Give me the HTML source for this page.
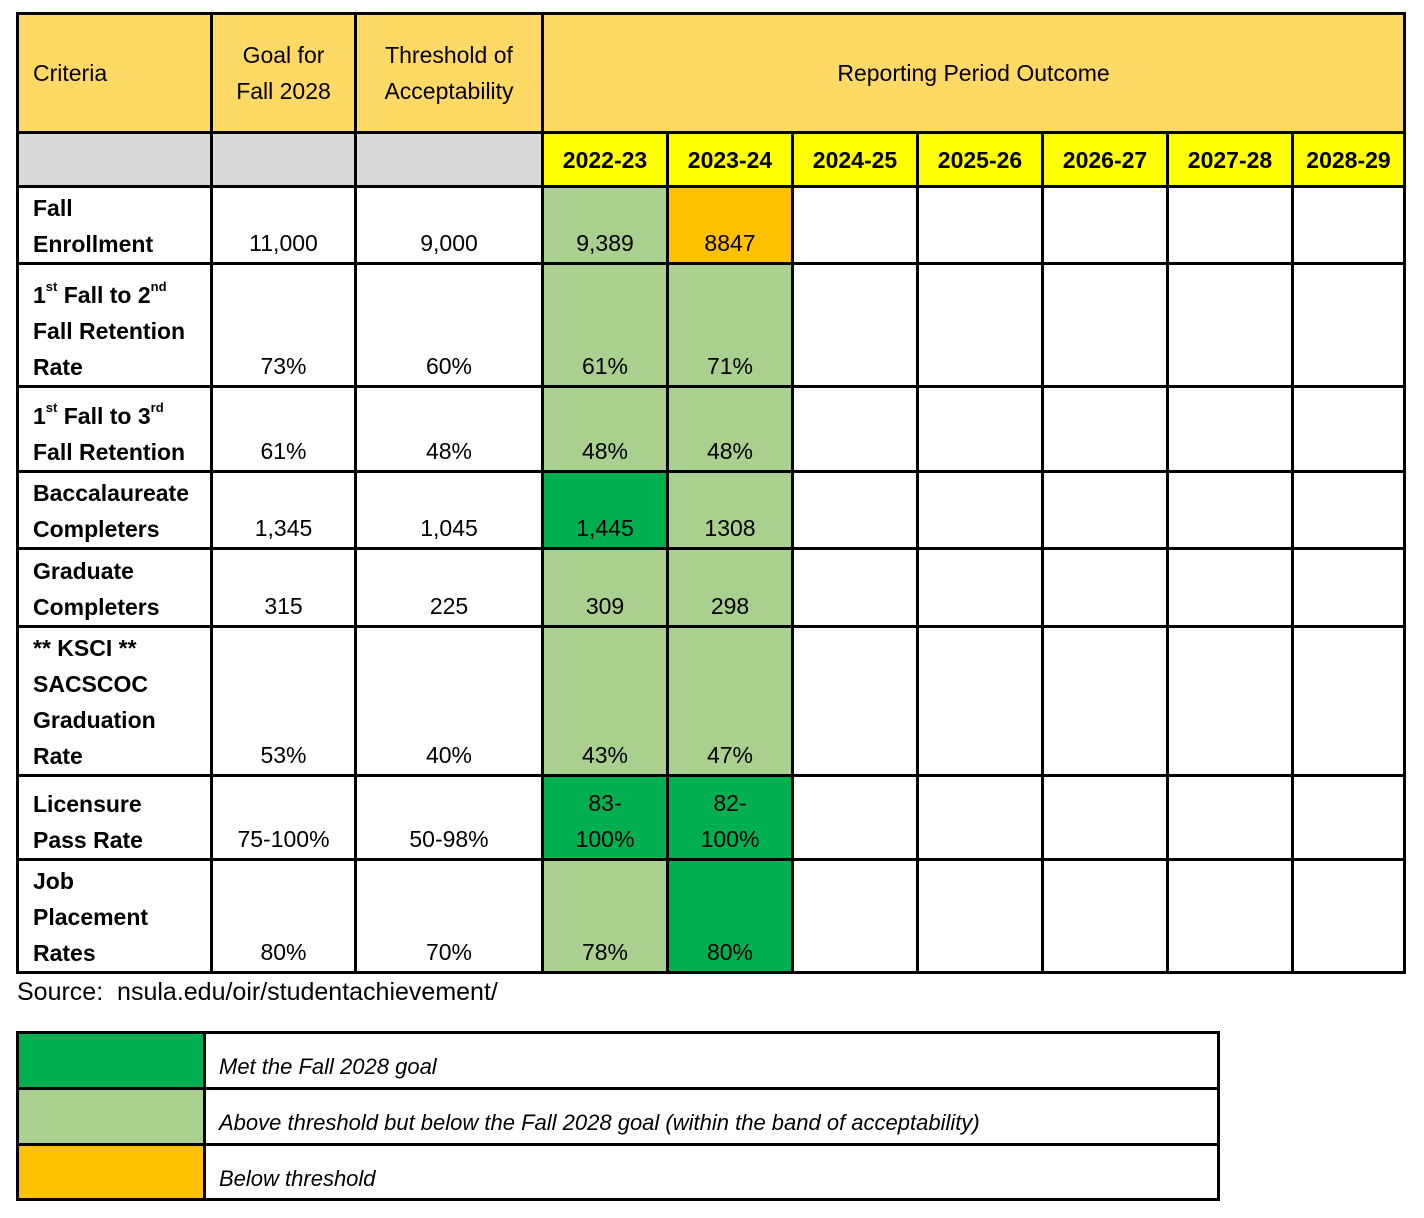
<!DOCTYPE html>
<html><head><meta charset="utf-8">
<style>
body{margin:0;background:#fff;width:1424px;height:1218px;position:relative;overflow:hidden;font-family:"Liberation Sans",sans-serif;color:#000}
.c{position:absolute;box-sizing:border-box;border:3px solid #000;display:flex;font-size:23px;line-height:36px}
.lab{font-weight:bold;align-items:flex-end;padding:0 0 0 14px;}
.val{align-items:flex-end;justify-content:center;text-align:center;padding-bottom:1px}
.hd{align-items:center;justify-content:center;text-align:center}
sup{font-size:13px;line-height:0;vertical-align:12px}
.src{position:absolute;left:17px;top:978px;font-size:25px}
.lt{position:absolute;font-style:italic;font-size:22px;left:219px}
</style></head><body>
<div id="t"></div>
<div class="src">Source:&nbsp; nsula.edu/oir/studentachievement/</div>
<div id="lg"></div>
<script>
const colX=[17,211,355,542,667,792,917,1042,1167,1292,1404];
const rowY=[13,132,186,263,386,471,548,626,775,859,972];
const years=["2022-23","2023-24","2024-25","2025-26","2026-27","2027-28","2028-29"];
const criteria=["Fall<br>Enrollment","1<sup>st</sup> Fall to 2<sup>nd</sup><br>Fall Retention<br>Rate","1<sup>st</sup> Fall to 3<sup>rd</sup><br>Fall Retention","Baccalaureate<br>Completers","Graduate<br>Completers","** KSCI **<br>SACSCOC<br>Graduation<br>Rate","Licensure<br>Pass Rate","Job<br>Placement<br>Rates"];
const goals=["11,000","73%","61%","1,345","315","53%","75-100%","80%"];
const thresholds=["9,000","60%","48%","1,045","225","40%","50-98%","70%"];
const out2223=["9,389","61%","48%","1,445","309","43%","83-<br>100%","78%"];
const out2324=["8847","71%","48%","1308","298","47%","82-<br>100%","80%"];
const stat2223=["L","L","L","D","L","L","D","L"];
const stat2324=["O","L","L","L","L","L","D","D"];
const colors={D:"#00B050",L:"#A9D08E",O:"#FFC000"};
const T=document.getElementById('t');
function cell(x0,x1,y0,y1,cls,html,bg,name){
  const d=document.createElement('div');
  d.className='c '+cls;
  d.style.left=(x0-1)+'px';d.style.top=(y0-1)+'px';
  d.style.width=(x1-x0+3)+'px';d.style.height=(y1-y0+3)+'px';
  d.style.background=bg||'#fff';
  d.innerHTML='<span>'+html+'</span>';
  
  
  T.appendChild(d);
}
const H="#FFD966";
cell(colX[0],colX[1],rowY[0],rowY[1],'hd',"Criteria",H,'criteria-header');
T.lastChild.style.justifyContent='flex-start';T.lastChild.style.paddingLeft='14px';
cell(colX[1],colX[2],rowY[0],rowY[1],'hd',"Goal for<br>Fall 2028",H,'goal-header');
cell(colX[2],colX[3],rowY[0],rowY[1],'hd',"Threshold of<br>Acceptability",H,'threshold-header');
cell(colX[3],colX[10],rowY[0],rowY[1],'hd',"Reporting Period Outcome",H,'reporting-header');
for(let i=0;i<3;i++) cell(colX[i],colX[i+1],rowY[1],rowY[2],'hd',"","#D9D9D9",'blank-subheader');
years.forEach((y,i)=>{cell(colX[3+i],colX[4+i],rowY[1],rowY[2],'hd',"<b>"+y+"</b>","#FFFF00",'year-'+y);});
criteria.forEach((c,r)=>{
  const y0=rowY[2+r],y1=rowY[3+r];
  cell(colX[0],colX[1],y0,y1,'lab',c,'#fff','criteria-label');
  cell(colX[1],colX[2],y0,y1,'val',goals[r],'#fff','goal-value');
  cell(colX[2],colX[3],y0,y1,'val',thresholds[r],'#fff','threshold-value');
  cell(colX[3],colX[4],y0,y1,'val',out2223[r],colors[stat2223[r]],'outcome-2022-23');
  cell(colX[4],colX[5],y0,y1,'val',out2324[r],colors[stat2324[r]],'outcome-2023-24');
  for(let k=5;k<10;k++) cell(colX[k],colX[k+1],y0,y1,'val','','#fff','outcome-empty');
});
const L=document.getElementById('lg');
const legY=[1032,1088,1144,1199];
const legText=["Met the Fall 2028 goal","Above threshold but below the Fall 2028 goal (within the band of acceptability)","Below threshold"];
const legCol=["#00B050","#A9D08E","#FFC000"];
legText.forEach((t,i)=>{
  const a=document.createElement('div');
  a.style.cssText=`position:absolute;box-sizing:border-box;border:3px solid #000;left:16px;top:${legY[i]-1}px;width:190px;height:${legY[i+1]-legY[i]+3}px;background:${legCol[i]}`;
  
  
  L.appendChild(a);
  const b=document.createElement('div');
  b.style.cssText=`position:absolute;box-sizing:border-box;border:3px solid #000;left:203px;top:${legY[i]-1}px;width:1017px;height:${legY[i+1]-legY[i]+3}px;background:#fff`;
  
  
  L.appendChild(b);
  const s=document.createElement('div');
  s.className='lt';s.style.top=(legY[i]+22)+'px';s.textContent=t;
  
  
  L.appendChild(s);
});
</script>
</body></html>
